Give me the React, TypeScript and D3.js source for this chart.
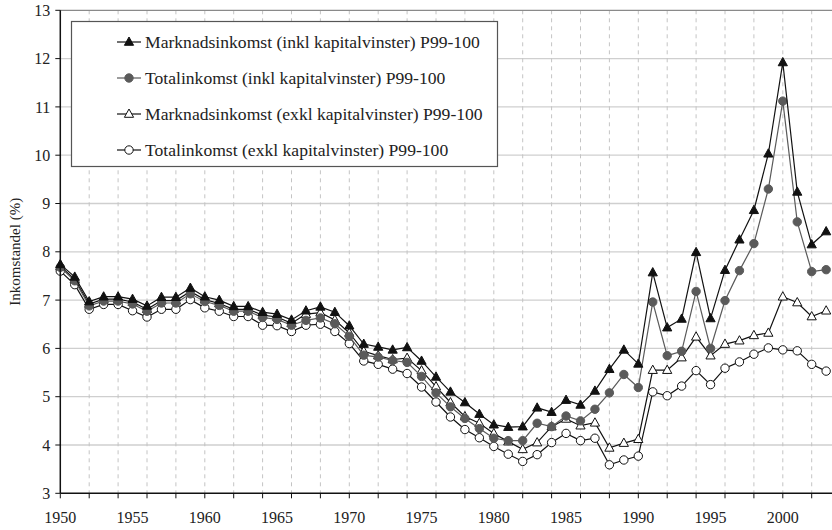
import * as d3 from "d3";

const years = d3.range(1950, 2004);

const marknadInkl = [
  7.74, 7.48, 6.97, 7.07, 7.07, 7.02, 6.88, 7.06, 7.06, 7.25,
  7.07, 7.0, 6.87, 6.87, 6.75, 6.71, 6.59, 6.78, 6.86, 6.75,
  6.47, 6.09, 6.03, 5.97, 6.02, 5.74, 5.41, 5.1, 4.88, 4.64,
  4.42, 4.37, 4.38, 4.77, 4.68, 4.93, 4.83, 5.12, 5.57, 5.97,
  5.68, 7.57, 6.43, 6.61, 7.99, 6.62, 7.62, 8.25, 8.86, 10.03,
  11.92, 9.24, 8.15, 8.42,
];
const totalInkl = [
  7.68, 7.4, 6.88, 6.98, 6.98, 6.92, 6.77, 6.94, 6.94, 7.13,
  6.97, 6.89, 6.77, 6.77, 6.64, 6.6, 6.48, 6.58, 6.63, 6.51,
  6.25, 5.86, 5.82, 5.75, 5.71, 5.42, 5.08, 4.79, 4.55, 4.34,
  4.14, 4.09, 4.09, 4.45, 4.38, 4.6, 4.5, 4.74, 5.08, 5.46,
  5.19, 6.96, 5.85, 5.94, 7.18, 6.0, 6.99, 7.61, 8.17, 9.3,
  11.12, 8.62, 7.59, 7.63,
];
const marknadExkl = [
  7.7, 7.43, 6.92, 7.02, 7.02, 6.96, 6.81, 6.99, 6.99, 7.18,
  7.01, 6.93, 6.81, 6.81, 6.69, 6.65, 6.52, 6.71, 6.74, 6.59,
  6.32, 5.94, 5.85, 5.77, 5.8, 5.54, 5.21, 4.88, 4.59, 4.45,
  4.24, 4.07, 3.91, 4.05, 4.38, 4.54, 4.4, 4.46, 3.94, 4.04,
  4.12, 5.55, 5.55, 5.81, 6.24, 5.85, 6.09, 6.16, 6.27, 6.32,
  7.07, 6.95, 6.66, 6.78,
];
const totalExkl = [
  7.6, 7.32, 6.81, 6.91, 6.91, 6.78, 6.65, 6.81, 6.81, 7.01,
  6.84, 6.77, 6.66, 6.66, 6.48, 6.47, 6.35, 6.48, 6.5, 6.35,
  6.1, 5.74, 5.67, 5.57, 5.48, 5.2, 4.89, 4.58, 4.32, 4.15,
  3.97, 3.81, 3.66, 3.8, 4.05, 4.24, 4.09, 4.14, 3.59, 3.69,
  3.77, 5.1, 5.02, 5.22, 5.54, 5.25, 5.59, 5.72, 5.88, 6.01,
  5.97, 5.95, 5.67, 5.53,
];

const seriesNames = [
  "Marknadsinkomst (inkl kapitalvinster) P99-100",
  "Totalinkomst (inkl kapitalvinster) P99-100",
  "Marknadsinkomst (exkl kapitalvinster) P99-100",
  "Totalinkomst (exkl kapitalvinster) P99-100",
];
const yTicks = d3.range(3, 14);
const xTicks = d3.range(1950, 2005, 2);
const xLabels = d3.range(1950, 2001, 5);

const W = 832;
const H = 530;
const txt = { fontFamily: '"Liberation Serif"' };

type Style = { kind: "tri" | "circle"; fill: string; stroke: string; line: string };
const styles: Style[] = [
  { kind: "tri", fill: "#111", stroke: "#111", line: "#111" },
  { kind: "circle", fill: "#5a5a5a", stroke: "#5a5a5a", line: "#5a5a5a" },
  { kind: "tri", fill: "#fff", stroke: "#111", line: "#111" },
  { kind: "circle", fill: "#fff", stroke: "#111", line: "#111" },
];

const Marker = ({ s, x, y }: { s: Style; x: number; y: number }) =>
  s.kind === "tri" ? (
    <path
      d={`M${x},${y - 5}L${x + 4.6},${y + 3.3}L${x - 4.6},${y + 3.3}Z`}
      fill={s.fill}
      stroke={s.stroke}
      strokeWidth={1}
    />
  ) : (
    <circle cx={x} cy={y} r={4.2} fill={s.fill} stroke={s.stroke} strokeWidth={1} />
  );

export default function App() {
  const x = d3.scaleLinear().domain([1950, 2004]).range([60.3, 60.3 + 54 * 14.45]);
  const y = d3.scaleLinear().domain([3, 13]).range([493.3, 10.3]);

  const all = [marknadInkl, totalInkl, marknadExkl, totalExkl];
  const line = d3
    .line<number>()
    .x((_, i) => x(years[i]))
    .y((d) => y(d));

  const drawOrder = [3, 2, 1, 0];

  return (
    <>
      <style>{`body{margin:0}`}</style>
      <svg width={W} height={H} style={{ display: "block", background: "#fff" }}>
        {/* grid */}
        {yTicks.slice(1, -1).map((t) => (
          <line key={"h" + t} x1={x(1950)} x2={W} y1={y(t)} y2={y(t)} stroke="#cfcfcf" strokeWidth={1.3} />
        ))}
        {xTicks.slice(1).map((t) => (
          <line
            key={"v" + t}
            x1={x(t)}
            x2={x(t)}
            y1={y(13)}
            y2={y(3)}
            stroke="#c4c4c4"
            strokeWidth={1}
            strokeDasharray="4,4"
          />
        ))}
        <line x1={x(1950)} x2={W} y1={y(13)} y2={y(13)} stroke="#8a8a8a" strokeWidth={1.3} />

        {/* series */}
        {drawOrder.map((k) => (
          <g key={"s" + k}>
            <path d={line(all[k]) || ""} fill="none" stroke={styles[k].line} strokeWidth={1.2} />
            {all[k].map((v, i) => (
              <Marker key={i} s={styles[k]} x={x(years[i])} y={y(v)} />
            ))}
          </g>
        ))}

        {/* axes */}
        <line x1={x(1950)} x2={x(1950)} y1={y(13)} y2={y(3)} stroke="#111" strokeWidth={1.5} />
        <line x1={x(1950)} x2={W} y1={y(3)} y2={y(3)} stroke="#111" strokeWidth={1.5} />
        {yTicks.map((t) => (
          <g key={"yt" + t}>
            <line x1={x(1950) - 5} x2={x(1950)} y1={y(t)} y2={y(t)} stroke="#111" strokeWidth={1} />
            <text x={x(1950) - 10} y={y(t)} dy="0.35em" textAnchor="end" fontSize={16} fill="#222" style={txt}>
              {t}
            </text>
          </g>
        ))}
        {xTicks.map((t) => (
          <line key={"xt" + t} x1={x(t)} x2={x(t)} y1={y(3)} y2={y(3) + 5} stroke="#111" strokeWidth={1} />
        ))}
        {xLabels.map((t) => (
          <text key={"xl" + t} x={x(t)} y={523} textAnchor="middle" fontSize={16} fill="#222" style={txt}>
            {t}
          </text>
        ))}
        <text
          transform={`translate(20,${y(8)}) rotate(-90)`}
          textAnchor="middle"
          fontSize={15}
          fill="#222"
          style={txt}
        >
          Inkomstandel (%)
        </text>

        {/* legend */}
        <rect x={71.5} y={21.5} width={426} height={145} fill="#fff" stroke="#555" strokeWidth={1.2} />
        {seriesNames.map((name, k) => {
          const ly = 42 + k * 36;
          return (
            <g key={"l" + k}>
              <line x1={117} x2={141} y1={ly} y2={ly} stroke={styles[k].line} strokeWidth={1.2} />
              <Marker s={styles[k]} x={129} y={ly} />
              <text x={145} y={ly} dy="0.35em" fontSize={17.6} fill="#222" style={txt}>
                {name}
              </text>
            </g>
          );
        })}
      </svg>
    </>
  );
}
